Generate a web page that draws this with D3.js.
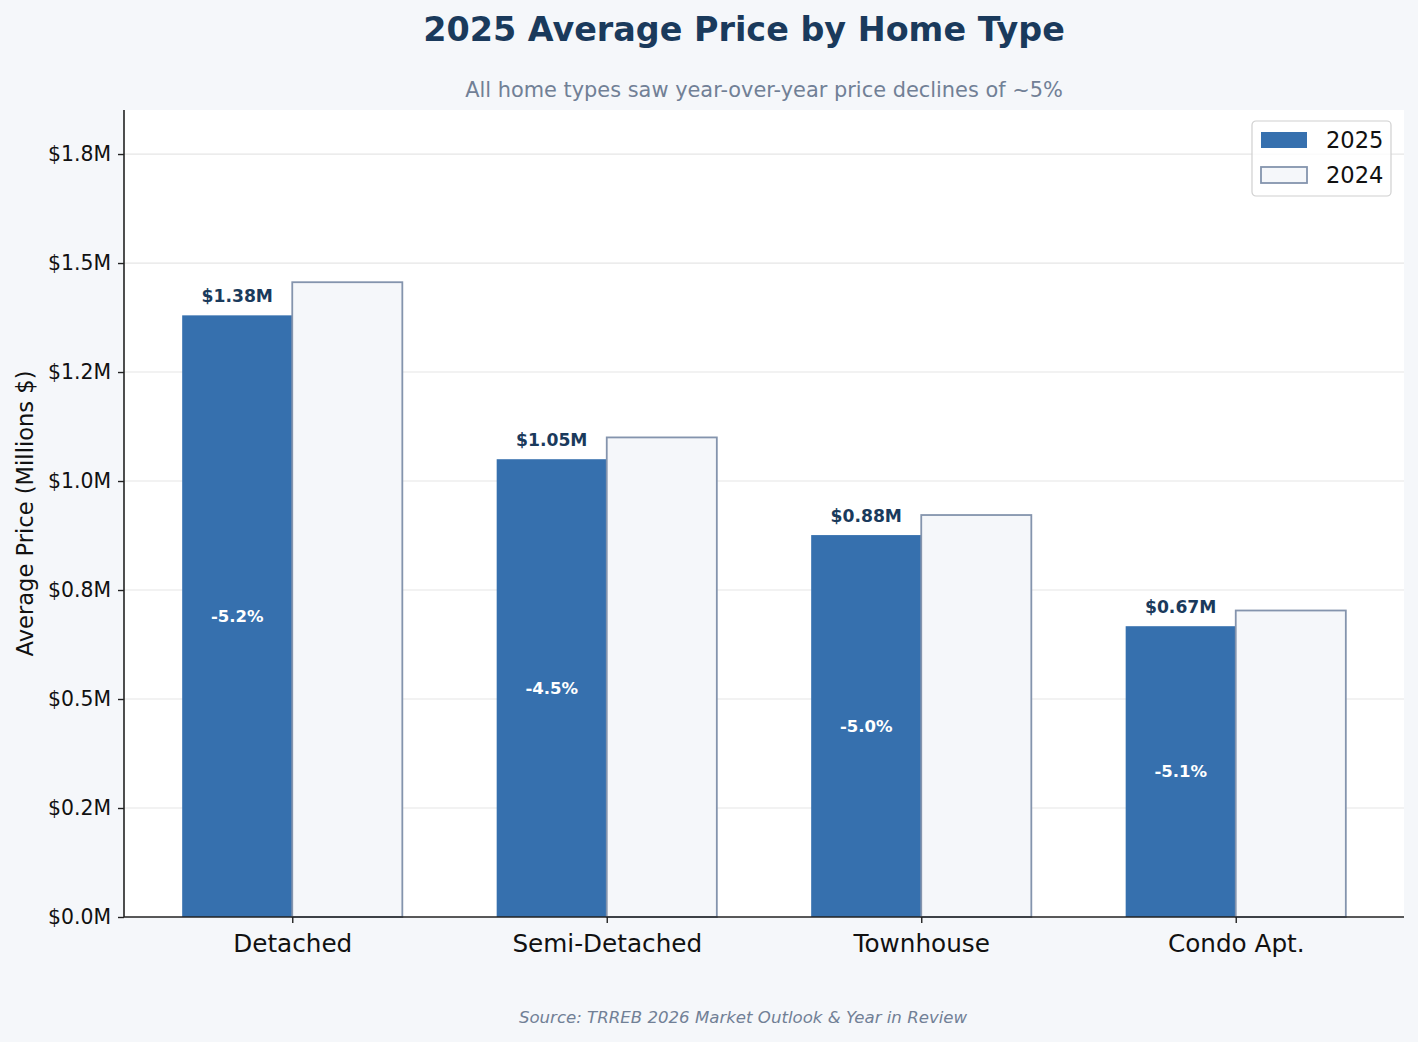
<!DOCTYPE html>
<html>
<head>
<meta charset="utf-8">
<script src="https://cdn.jsdelivr.net/npm/d3@7"></script>
<style>
  body { margin: 0; background: #f5f7fa; }
  svg { display: block; font-family: "DejaVu Sans", sans-serif; }
</style>
</head>
<body>
<svg id="chart" width="1418" height="1042"></svg>
<script>
var categories = ["Detached", "Semi-Detached", "Townhouse", "Condo Apt."];
var price2025 = [1.38, 1.05, 0.876, 0.667];
var price2024 = [1.456, 1.10, 0.922, 0.703];
var valueLabels = ["$1.38M", "$1.05M", "$0.88M", "$0.67M"];
var changeLabels = ["-5.2%", "-4.5%", "-5.0%", "-5.1%"];
var tickValues = [0, 0.25, 0.5, 0.75, 1.0, 1.25, 1.5, 1.75];
var tickLabels = ["$0.0M", "$0.2M", "$0.5M", "$0.8M", "$1.0M", "$1.2M", "$1.5M", "$1.8M"];

(function() {
var plotLeft = 124, plotRight = 1404, plotTop = 110, plotBottom = 917;

var c2025 = "#3670ae",
    fill2024 = "#f5f7fa",
    stroke2024 = "#8494ad",
    navy = "#1a3a5c",
    slate = "#718096";

var svg = d3.select("#chart");

// plot area background
svg.append("rect")
    .attr("x", plotLeft).attr("y", plotTop)
    .attr("width", plotRight - plotLeft).attr("height", plotBottom - plotTop)
    .attr("fill", "#fff");

var barW = 0.35;
var x = d3.scaleLinear()
    .domain([-barW - 0.185, categories.length - 1 + barW + 0.185])
    .range([plotLeft, plotRight]);
var y = d3.scaleLinear().domain([0, 1.851]).range([plotBottom, plotTop]);

// gridlines
svg.append("g").selectAll("line")
    .data(tickValues.slice(1))
    .enter().append("line")
    .attr("x1", plotLeft).attr("x2", plotRight)
    .attr("y1", function(d) { return y(d); })
    .attr("y2", function(d) { return y(d); })
    .attr("stroke", "#e6e6e6")
    .attr("stroke-width", 1.2);

var bw = x(barW) - x(0);

// 2025 bars
svg.append("g").selectAll("rect")
    .data(price2025)
    .enter().append("rect")
    .attr("x", function(d, i) { return x(i) - bw; })
    .attr("y", function(d) { return y(d); })
    .attr("width", bw)
    .attr("height", function(d) { return plotBottom - y(d); })
    .attr("fill", c2025);

// 2024 bars
svg.append("g").selectAll("rect")
    .data(price2024)
    .enter().append("rect")
    .attr("x", function(d, i) { return x(i); })
    .attr("y", function(d) { return y(d); })
    .attr("width", bw)
    .attr("height", function(d) { return plotBottom - y(d); })
    .attr("fill", fill2024)
    .attr("stroke", stroke2024)
    .attr("stroke-width", 1.8);

// value labels
svg.append("g").selectAll("text")
    .data(price2025)
    .enter().append("text")
    .attr("x", function(d, i) { return x(i) - bw / 2; })
    .attr("y", function(d) { return y(d) - 13; })
    .attr("text-anchor", "middle")
    .attr("font-size", 17.2)
    .attr("font-weight", "bold")
    .attr("fill", navy)
    .text(function(d, i) { return valueLabels[i]; });

// change labels
svg.append("g").selectAll("text")
    .data(price2025)
    .enter().append("text")
    .attr("x", function(d, i) { return x(i) - bw / 2; })
    .attr("y", function(d) { return y(d / 2); })
    .attr("dy", "0.35em")
    .attr("text-anchor", "middle")
    .attr("font-size", 16.5)
    .attr("font-weight", "bold")
    .attr("fill", "#fff")
    .text(function(d, i) { return changeLabels[i]; });

// y axis
var yAxis = d3.axisLeft(y)
    .tickValues(tickValues)
    .tickFormat(function(d, i) { return tickLabels[i]; })
    .tickSize(6)
    .tickPadding(7);

var gy = svg.append("g")
    .attr("transform", "translate(" + plotLeft + ",0)")
    .call(yAxis);
gy.select(".domain").attr("stroke", "#222").attr("stroke-width", 1.6)
    .attr("d", "M0," + plotTop + "V" + plotBottom);
gy.selectAll(".tick line").attr("stroke", "#222").attr("stroke-width", 1.4);
gy.selectAll(".tick text")
    .attr("font-size", 20.4)
    .attr("font-family", "DejaVu Sans")
    .attr("fill", "#111");

// x axis
var xAxis = d3.axisBottom(x)
    .tickValues(d3.range(categories.length))
    .tickFormat(function(d) { return categories[d]; })
    .tickSize(6)
    .tickPadding(11);

var gx = svg.append("g")
    .attr("transform", "translate(0," + plotBottom + ")")
    .call(xAxis);
gx.select(".domain").attr("stroke", "#222").attr("stroke-width", 1.6)
    .attr("d", "M" + plotLeft + ",0H" + plotRight);
gx.selectAll(".tick line").attr("stroke", "#222").attr("stroke-width", 1.4);
gx.selectAll(".tick text")
    .attr("font-size", 24.7)
    .attr("font-family", "DejaVu Sans")
    .attr("fill", "#111");

// y label
svg.append("text")
    .attr("transform", "translate(33," + (plotTop + plotBottom) / 2 + ") rotate(-90)")
    .attr("text-anchor", "middle")
    .attr("font-size", 22.6)
    .attr("fill", "#111")
    .text("Average Price (Millions $)");

// title + subtitle + source
svg.append("text")
    .attr("x", 744).attr("y", 41)
    .attr("text-anchor", "middle")
    .attr("font-size", 33.4)
    .attr("font-weight", "bold")
    .attr("fill", navy)
    .text("2025 Average Price by Home Type");

svg.append("text")
    .attr("x", 764).attr("y", 97)
    .attr("text-anchor", "middle")
    .attr("font-size", 20.9)
    .attr("fill", slate)
    .text("All home types saw year-over-year price declines of ~5%");

svg.append("text")
    .attr("x", 743).attr("y", 1023)
    .attr("text-anchor", "middle")
    .attr("font-size", 16.6)
    .attr("font-style", "italic")
    .attr("fill", slate)
    .text("Source: TRREB 2026 Market Outlook & Year in Review");

// legend
var legend = svg.append("g").attr("transform", "translate(1252,121)");
legend.append("rect")
    .attr("width", 139).attr("height", 75).attr("rx", 4)
    .attr("fill", "#fff").attr("fill-opacity", 0.8)
    .attr("stroke", "#d0d0d0").attr("stroke-width", 1.2);
var items = [
  { label: "2025", fill: c2025, stroke: "none" },
  { label: "2024", fill: fill2024, stroke: stroke2024 }
];
var li = legend.selectAll("g.item")
    .data(items)
    .enter().append("g")
    .attr("class", "item")
    .attr("transform", function(d, i) { return "translate(9," + (11 + i * 35) + ")"; });
li.append("rect")
    .attr("width", 46).attr("height", 16)
    .attr("fill", function(d) { return d.fill; })
    .attr("stroke", function(d) { return d.stroke; })
    .attr("stroke-width", 1.8);
li.append("text")
    .attr("x", 65).attr("y", 16)
    .attr("font-size", 22.6)
    .attr("fill", "#111")
    .text(function(d) { return d.label; });
})();
</script>
</body>
</html>
